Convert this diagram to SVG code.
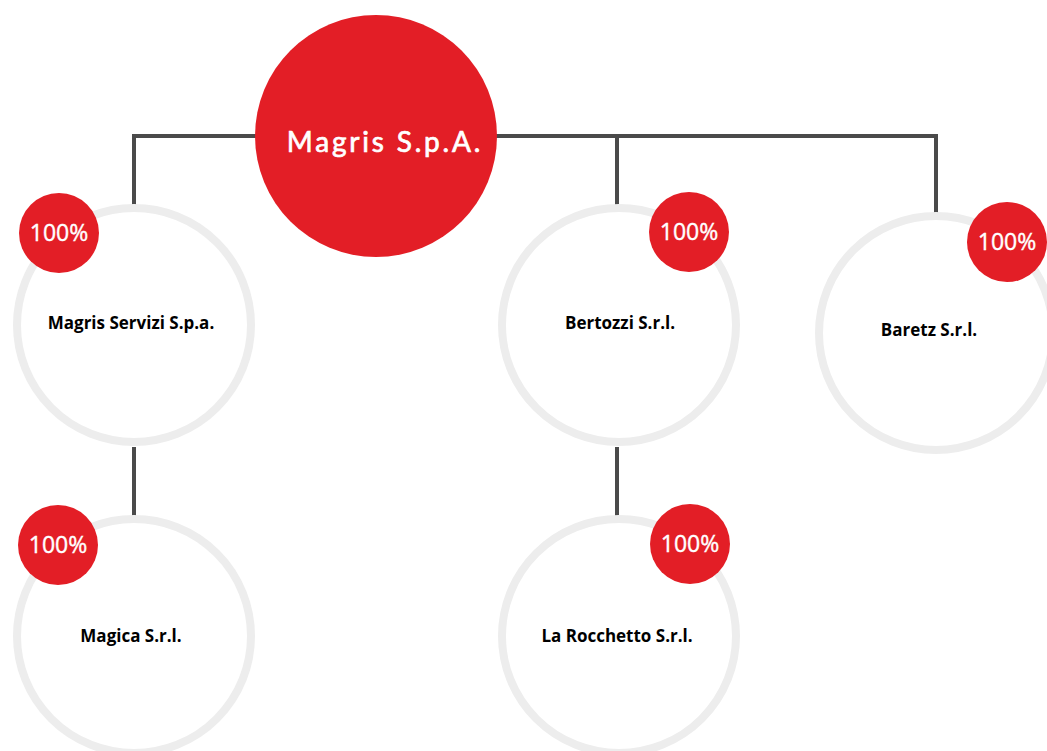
<svg xmlns="http://www.w3.org/2000/svg" width="1047" height="751" viewBox="0 0 1047 751">
<style>
.conn{stroke:#4a4a4a;stroke-width:4;fill:none}
.ring{fill:#fff;stroke:#ededed;stroke-width:8}
.red{fill:#e31e26}
.pct{font-family:"Open Sans",sans-serif;font-size:23px;fill:#fff;stroke:#fff;stroke-width:0.4;text-anchor:middle}
.lbl{font-family:"Open Sans",sans-serif;font-weight:bold;font-size:17px;fill:#000;text-anchor:middle}
</style>
<rect width="1047" height="751" fill="#fff"/>
<g id="connectors">
<path class="conn" d="M134 205 V136 H936 V213"/>
<path class="conn" d="M617 136 V205"/>
<path class="conn" d="M134 447 V517"/>
<path class="conn" d="M617 447 V517"/>
</g>
<g id="magris-spa">
<circle class="red" cx="376" cy="136" r="121"/>
<text x="385" y="152" font-family="Lato,'Open Sans',sans-serif" font-size="28" fill="#fff" stroke="#fff" stroke-width="0.7" text-anchor="middle" letter-spacing="2.8">Magris S.p.A.</text>
</g>
<g id="magris-servizi">
<circle class="ring" cx="134" cy="325" r="117"/>
<circle class="red" cx="59" cy="233" r="40"/>
<text class="pct" x="59" y="241">100%</text>
<text class="lbl" x="131" y="329">Magris Servizi S.p.a.</text>
</g>
<g id="bertozzi">
<circle class="ring" cx="619" cy="325" r="117"/>
<circle class="red" cx="689" cy="232" r="40"/>
<text class="pct" x="689" y="240">100%</text>
<text class="lbl" x="620" y="329">Bertozzi S.r.l.</text>
</g>
<g id="baretz">
<circle class="ring" cx="936" cy="333" r="117"/>
<circle class="red" cx="1007" cy="242" r="40"/>
<text class="pct" x="1007" y="250">100%</text>
<text class="lbl" x="929" y="336">Baretz S.r.l.</text>
</g>
<g id="magica">
<circle class="ring" cx="134" cy="636" r="117"/>
<circle class="red" cx="58" cy="545" r="40"/>
<text class="pct" x="58" y="553">100%</text>
<text class="lbl" x="131" y="642">Magica S.r.l.</text>
</g>
<g id="la-rocchetto">
<circle class="ring" cx="619" cy="636" r="117"/>
<circle class="red" cx="690" cy="544" r="40"/>
<text class="pct" x="690" y="552">100%</text>
<text class="lbl" x="617" y="642">La Rocchetto S.r.l.</text>
</g>
</svg>
